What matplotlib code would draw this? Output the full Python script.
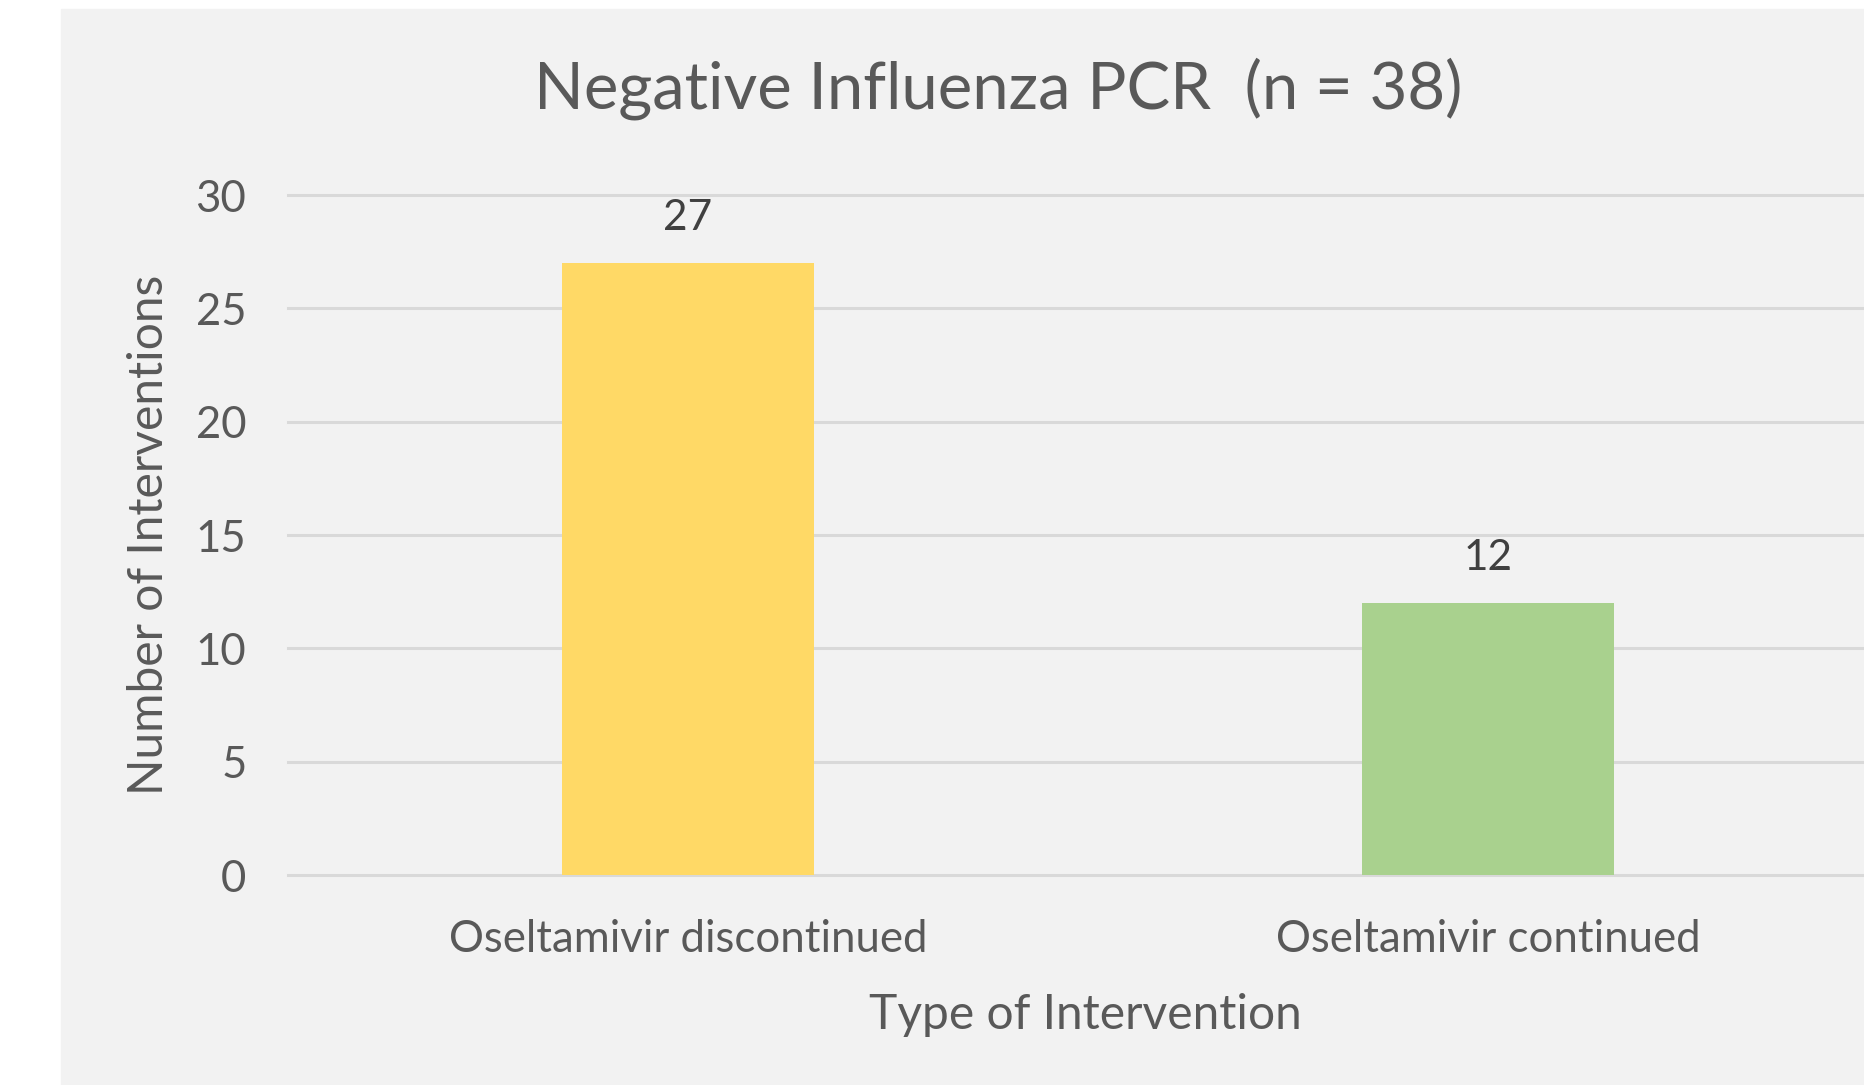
import matplotlib.pyplot as plt
from matplotlib.patches import Rectangle

categories = ["Oseltamivir discontinued", "Oseltamivir continued"]
counts = [27, 12]
bar_colors = ["#FFD966", "#A9D18E"]
y_ticks = [0, 5, 10, 15, 20, 25, 30]

W, H = 1864, 1085
fig = plt.figure(figsize=(W / 100, H / 100), dpi=100)
plt.rcParams["font.family"] = ["Lato", "DejaVu Sans"]

# grey panel behind the chart
fig.patches.append(Rectangle((61 / W, 0), 1 - 61 / W, 1 - 9 / H,
                             transform=fig.transFigure, color="#F2F2F2", zorder=-5))

ax = fig.add_axes([288 / W, 1 - 875 / H, 1600 / W, 680 / H])
ax.set_facecolor("none")

x = range(len(categories))
bars = ax.bar(x, counts, width=0.315, color=bar_colors, zorder=3)
ax.set_xlim(-0.5, 1.5)
ax.set_ylim(0, 30)
ax.set_yticks(y_ticks)
ax.set_xticks(list(x))
ax.set_xticklabels(categories)

for v in y_ticks:
    ax.axhline(v, color="#D9D9D9", linewidth=2.2, zorder=1, clip_on=False)

for s in ax.spines.values():
    s.set_visible(False)
ax.tick_params(length=0, labelsize=31.5, colors="#595959")
ax.tick_params(axis="y", pad=30)
ax.tick_params(axis="x", pad=32)

for b, v in zip(bars, counts):
    ax.text(b.get_x() + b.get_width() / 2, v + 2.0, str(v), ha="center", va="center",
            fontsize=30.5, color="#404040")

ax.set_ylabel("Number of Interventions", fontsize=34.5, color="#595959")
ax.yaxis.label.set_va("center")
ax.yaxis.set_label_coords((149 - 288) / 1600, 0.5)
ax.set_xlabel("Type of Intervention", fontsize=34.5, color="#595959")
ax.xaxis.label.set_va("center")
ax.xaxis.set_label_coords((1085 - 288) / 1600, -(1015 - 875) / 680)

fig.text(998 / W, 1 - 89 / H, "Negative Influenza PCR  (n = 38)", ha="center",
         va="center", fontsize=47, color="#595959")

fig.savefig("out.png", dpi=100)
